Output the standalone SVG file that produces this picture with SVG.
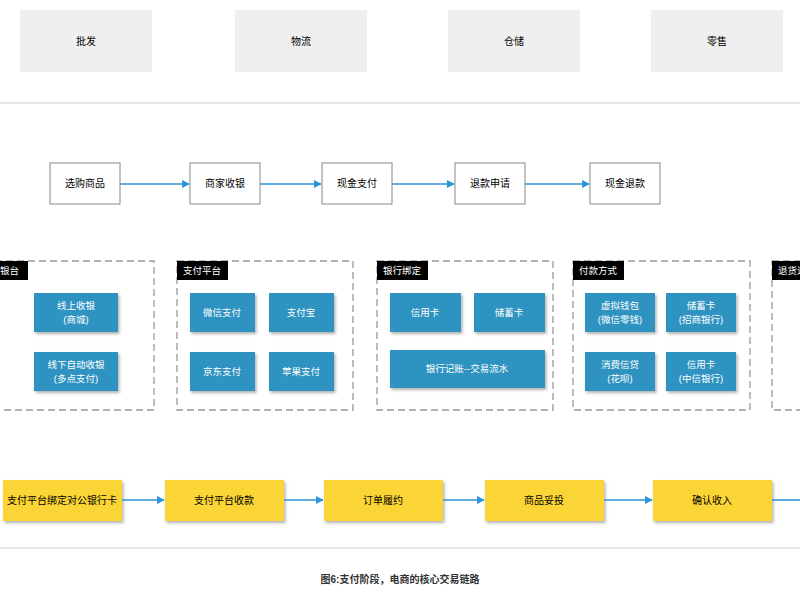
<svg xmlns="http://www.w3.org/2000/svg" width="800" height="600" viewBox="0 0 800 600">
<defs>
<style>
text{font-family:"Liberation Sans","Noto Sans CJK SC",sans-serif;font-size:10px;text-anchor:middle;dominant-baseline:middle}
.top{fill:#efefef}
.fl{fill:#fff;stroke:#888;stroke-width:1}
.grp{fill:none;stroke:#999;stroke-width:1.3;stroke-dasharray:7 4}
.lab{fill:#000}
.labt{fill:#fff;text-anchor:start;font-size:9.5px}
.b{fill:#2f93c1;filter:url(#sh)}
.bt{fill:#fff;font-size:9.5px}
.y{fill:#fbd535;filter:url(#sh)}
.ar{stroke:#2e95d8;stroke-width:1.6;fill:none;marker-end:url(#ah)}
</style>
<filter id="sh" x="-10%" y="-10%" width="130%" height="140%"><feDropShadow dx="1.5" dy="2" stdDeviation="1.5" flood-opacity="0.3"/></filter>
<marker id="ah" viewBox="0 0 10 10" refX="9" refY="5" markerWidth="5" markerHeight="5" orient="auto"><path d="M0,0L10,5L0,10z" fill="#2e95d8"/></marker>
</defs>
<rect width="800" height="600" fill="#fff"/>
<g id="top">
<rect class="top" x="20" y="10" width="132" height="62"/><text x="86" y="42">批发</text>
<rect class="top" x="235" y="10" width="132" height="62"/><text x="301" y="42">物流</text>
<rect class="top" x="448" y="10" width="132" height="62"/><text x="514" y="42">仓储</text>
<rect class="top" x="651" y="10" width="132" height="62"/><text x="717" y="42">零售</text>
</g>
<line x1="0" y1="103" x2="800" y2="103" stroke="#e6e6e6" stroke-width="2"/>
<line x1="0" y1="548" x2="800" y2="548" stroke="#e6e6e6" stroke-width="2"/>
<g id="flow">
<rect class="fl" x="50" y="163" width="70" height="41"/><text x="85" y="184">选购商品</text>
<rect class="fl" x="190" y="163" width="70" height="41"/><text x="225" y="184">商家收银</text>
<rect class="fl" x="322" y="163" width="70" height="41"/><text x="357" y="184">现金支付</text>
<rect class="fl" x="455" y="163" width="70" height="41"/><text x="490" y="184">退款申请</text>
<rect class="fl" x="590" y="163" width="70" height="41"/><text x="625" y="184">现金退款</text>
</g>
<g id="groups">
<rect class="grp" x="-5" y="261" width="159" height="149"/>
<rect class="lab" x="0" y="261" width="28" height="19"/><text class="labt" x="0" y="271">银台</text>
<rect class="grp" x="177" y="261" width="176" height="149"/>
<rect class="lab" x="177" y="261" width="51" height="19"/><text class="labt" x="183" y="271">支付平台</text>
<rect class="grp" x="377" y="261" width="176" height="149"/>
<rect class="lab" x="377" y="261" width="51" height="19"/><text class="labt" x="383" y="271">银行绑定</text>
<rect class="grp" x="573" y="261" width="177" height="149"/>
<rect class="lab" x="573" y="261" width="51" height="19"/><text class="labt" x="579" y="271">付款方式</text>
<rect class="grp" x="772" y="261" width="40" height="149"/>
<rect class="lab" x="772" y="261" width="40" height="19"/><text class="labt" x="778" y="271">退货退</text>
</g>
<g id="blue">
<rect class="b" x="34" y="293" width="84" height="39"/><text class="bt" x="76" y="306">线上收银</text><text class="bt" x="76" y="320">(商城)</text>
<rect class="b" x="34" y="352" width="84" height="39"/><text class="bt" x="76" y="365">线下自动收银</text><text class="bt" x="76" y="379">(多点支付)</text>
<rect class="b" x="190" y="293" width="65" height="39"/><text class="bt" x="222" y="313">微信支付</text>
<rect class="b" x="269" y="293" width="65" height="39"/><text class="bt" x="301" y="313">支付宝</text>
<rect class="b" x="190" y="352" width="65" height="39"/><text class="bt" x="222" y="372">京东支付</text>
<rect class="b" x="269" y="352" width="65" height="39"/><text class="bt" x="301" y="372">苹果支付</text>
<rect class="b" x="390" y="293" width="71" height="39"/><text class="bt" x="425" y="313">信用卡</text>
<rect class="b" x="474" y="293" width="71" height="39"/><text class="bt" x="509" y="313">储蓄卡</text>
<rect class="b" x="390" y="350" width="155" height="38"/><text class="bt" x="467" y="369">银行记账--交易流水</text>
<rect class="b" x="585" y="293" width="70" height="39"/><text class="bt" x="620" y="306">虚拟钱包</text><text class="bt" x="620" y="320">(微信零钱)</text>
<rect class="b" x="666" y="293" width="70" height="39"/><text class="bt" x="701" y="306">储蓄卡</text><text class="bt" x="701" y="320">(招商银行)</text>
<rect class="b" x="585" y="352" width="70" height="39"/><text class="bt" x="620" y="365">消费信贷</text><text class="bt" x="620" y="379">(花呗)</text>
<rect class="b" x="666" y="352" width="70" height="39"/><text class="bt" x="701" y="365">信用卡</text><text class="bt" x="701" y="379">(中信银行)</text>
</g>
<g id="yellow">
<rect class="y" x="3" y="480" width="119" height="41"/><text x="62" y="501" font-size="9.5">支付平台绑定对公银行卡</text>
<rect class="y" x="165" y="480" width="119" height="41"/><text x="224" y="501">支付平台收款</text>
<rect class="y" x="324" y="480" width="119" height="41"/><text x="383" y="501">订单履约</text>
<rect class="y" x="485" y="480" width="119" height="41"/><text x="544" y="501">商品妥投</text>
<rect class="y" x="653" y="480" width="119" height="41"/><text x="712" y="501">确认收入</text>
</g>
<g id="connectors">
<line class="ar" x1="120" y1="184" x2="189" y2="184"/>
<line class="ar" x1="260" y1="184" x2="321" y2="184"/>
<line class="ar" x1="392" y1="184" x2="454" y2="184"/>
<line class="ar" x1="525" y1="184" x2="589" y2="184"/>
<line class="ar" x1="122" y1="500" x2="164" y2="500"/>
<line class="ar" x1="284" y1="500" x2="323" y2="500"/>
<line class="ar" x1="443" y1="500" x2="484" y2="500"/>
<line class="ar" x1="604" y1="500" x2="652" y2="500"/>
<line x1="772" y1="500" x2="800" y2="500" stroke="#2e95d8" stroke-width="1.6"/>
</g>
<text x="400" y="580" font-size="12" font-weight="bold" fill="#333">图6:支付阶段，电商的核心交易链路</text>
</svg>
